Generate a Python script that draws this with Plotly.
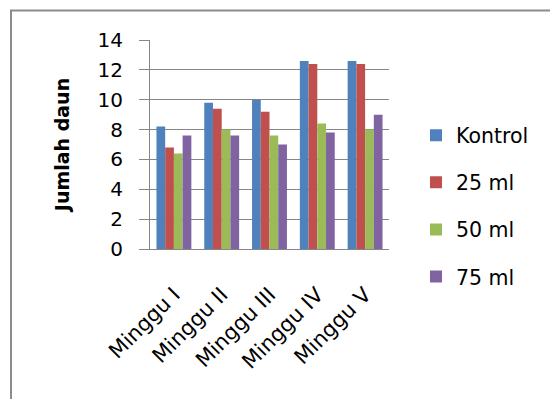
import plotly.graph_objects as go

categories = ["Minggu I", "Minggu II", "Minggu III", "Minggu IV", "Minggu V"]
series_names = ["Kontrol", "25 ml", "50 ml", "75 ml"]
kontrol = [8.2, 9.8, 10.0, 12.6, 12.6]
ml25 = [6.8, 9.4, 9.2, 12.4, 12.4]
ml50 = [6.4, 8.0, 7.6, 8.4, 8.0]
ml75 = [7.6, 7.6, 7.0, 7.8, 9.0]
y_ticks = [0, 2, 4, 6, 8, 10, 12, 14]

colors = ["#4F81BD", "#C0504D", "#9BBB59", "#8064A2"]
FONT = "DejaVu Sans"

fig = go.Figure()
for name, vals, col in zip(series_names, [kontrol, ml25, ml50, ml75], colors):
    fig.add_trace(go.Bar(x=categories, y=vals, name=name, marker=dict(color=col, line=dict(width=0)),
                         legendgroup=name))

L, R, T, B = 150, 161, 39.5, 150
pw, ph = 550 - L - R, 399 - T - B

fig.update_layout(
    width=550, height=399,
    margin=dict(l=L, r=R, t=T, b=B),
    paper_bgcolor="white", plot_bgcolor="white",
    barmode="group", bargap=0.27, bargroupgap=0,
    font=dict(family=FONT, size=20, color="black"),
    legend=dict(x=(416 - L) / pw, y=(249 - 115) / ph, xanchor="left", yanchor="top",
                tracegroupgap=17.5, itemwidth=30, font=dict(size=20.5, family=FONT),
                bgcolor="rgba(0,0,0,0)"),
    xaxis=dict(showline=True, linecolor="#868686", linewidth=1, tickangle=-45,
               ticks="", tickfont=dict(size=21, family=FONT), ticklabelstandoff=24),
    yaxis=dict(range=[0, 14], tickvals=y_ticks, showgrid=True, gridcolor="#868686", gridwidth=1,
               showline=True, linecolor="#868686", linewidth=1, ticks="outside", ticklen=10,
               tickcolor="#868686", tickfont=dict(size=20, family=FONT), zeroline=False,
               ticklabelstandoff=12,
               title=dict(text="<b>Jumlah daun</b>", font=dict(size=19, family=FONT), standoff=22)),
)

x0 = (11 - L) / pw
ytop = (399 - B - 10) / ph
fig.add_shape(type="path", xref="paper", yref="paper",
              path=f"M {x0} {-1} L {x0} {ytop} L {1.8} {ytop}",
              line=dict(color="#8c8c8c", width=2))

fig.write_html("out.html")
